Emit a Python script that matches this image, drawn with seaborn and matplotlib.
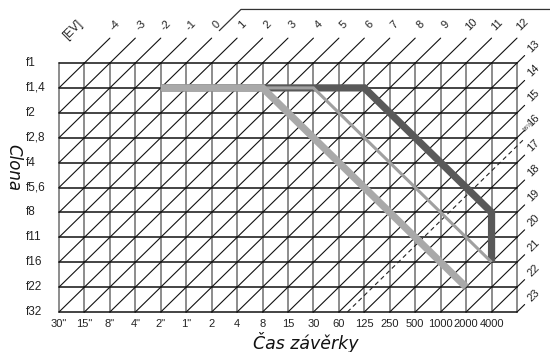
import matplotlib
matplotlib.use("Agg")
import matplotlib.pyplot as plt
import seaborn as sns
import pandas as pd

# ---- data -------------------------------------------------------------
shutter_labels = ['30"', '15"', '8"', '4"', '2"', '1"', '2', '4', '8', '15', '30',
                  '60', '125', '250', '500', '1000', '2000', '4000']
aperture_labels = ['f1', 'f1,4', 'f2', 'f2,8', 'f4', 'f5,6', 'f8', 'f11', 'f16', 'f22', 'f32']
ev_top = list(range(-4, 13))      # EV labels along the top
ev_right = list(range(13, 24))    # EV labels along the right side
ev_limit = 16 + 1 / 3             # dashed limit line
ev_limit_label = '16⅓'
ev_bracket = 0                    # EV line that carries the upper bracket

prog_dark_shutter = ['2"', '125', '4000', '4000']
prog_dark_aperture = ['f1,4', 'f1,4', 'f8', 'f16']
prog_thin_shutter = ['2"', '30', '4000']
prog_thin_aperture = ['f1,4', 'f1,4', 'f16']
prog_light_shutter = ['2"', '8', '2000']
prog_light_aperture = ['f1,4', 'f1,4', 'f22']

# ---- figure -----------------------------------------------------------
sns.set_style("white")
plt.rcParams['font.family'] = ['Liberation Sans', 'DejaVu Sans']

W, H = 550, 352
fig = plt.figure(figsize=(W / 100, H / 100), dpi=100)
ax = fig.add_axes([59 / W, 1 - 312 / H, 458 / W, 249 / H])
ncol = len(shutter_labels)
nrow = len(aperture_labels) - 1
ax.set_xlim(0, ncol)
ax.set_ylim(nrow, 0)
ax.set_axis_off()

EV0 = -5  # EV at the top-left corner (30", f1)


def k_of(ev):
    return ev - EV0


# grid
for i in range(ncol + 1):
    ax.plot([i, i], [0, nrow], color='#8c8c8c', lw=1.4, zorder=1, clip_on=False)
for j in range(nrow + 1):
    ax.plot([0, ncol], [j, j], color='#111111', lw=1.1, zorder=2, clip_on=False)
for k in range(1, ncol + nrow):
    x0, x1 = max(0, k - nrow), min(ncol, k)
    ax.plot([x0, x1], [k - x0, k - x1], color='#111111', lw=0.8, zorder=2, clip_on=False)

# extensions of EV lines above and to the right
for ev in ev_top:
    k = k_of(ev)
    ax.plot([k, k + 1], [0, -1], color='#111111', lw=0.8, clip_on=False)
    ax.text(k + 1.2, -1.53, str(ev), rotation=45, ha='center', va='center',
            fontsize=8, color='#222222')
for ev in ev_right:
    k = k_of(ev)
    ax.plot([ncol, ncol + 0.3], [k - ncol, k - ncol - 0.3], color='#111111', lw=0.8,
            clip_on=False)
    ax.text(ncol + 0.65, k - ncol - 0.68, str(ev), rotation=45, ha='center', va='center',
            fontsize=8, color='#222222')

# bracket on top
kb = k_of(ev_bracket)
ax.plot([kb + 1.3, kb + 2.15, 19.4], [-1.3, -2.15, -2.15], color='#333333', lw=0.9,
        clip_on=False)
ax.text(0.55, -1.33, '[EV]', rotation=45, ha='center', va='center', fontsize=8.5,
        color='#222222')

# dashed limit
kl = k_of(ev_limit)
ax.plot([kl - nrow, ncol + 0.3], [nrow, kl - ncol - 0.3], color='#222222', lw=0.8,
        ls=(0, (4, 3)), clip_on=False, zorder=2)
ax.text(ncol + 0.42, kl - ncol - 0.78, ev_limit_label, rotation=45, ha='center',
        va='center', fontsize=4.5, color='#222222')

# programme lines
def prog(sh, ap):
    return pd.DataFrame({'x': [shutter_labels.index(s) for s in sh],
                         'y': [aperture_labels.index(a) for a in ap]})


for sh, ap, col, lw in [(prog_dark_shutter, prog_dark_aperture, '#595959', 5.2),
                        (prog_thin_shutter, prog_thin_aperture, '#a0a0a0', 2.2),
                        (prog_light_shutter, prog_light_aperture, '#a9a9a9', 5.2)]:
    d = prog(sh, ap)
    sns.lineplot(data=d, x='x', y='y', sort=False, estimator=None, color=col, lw=lw,
                 ax=ax, zorder=3, solid_joinstyle='miter', solid_capstyle='butt')
ax.set_xlim(0, ncol)
ax.set_ylim(nrow, 0)
ax.set_axis_off()

# tick labels
for j, lab in enumerate(aperture_labels):
    ax.text(-1.3, j, lab, ha='left', va='center', fontsize=8.5, color='#222222',
            clip_on=False)
for i, lab in enumerate(shutter_labels):
    ax.text(i, nrow + 0.5, lab, ha='center', va='center', fontsize=8, color='#222222',
            clip_on=False)

fig.text(306 / W, 1 - 342.5 / H, 'Čas závěrky', ha='center', va='center', fontsize=12.5,
         style='italic', family='DejaVu Sans', color='#111111')
fig.text(13 / W, 1 - 168 / H, 'Clona', ha='center', va='center', fontsize=12,
         style='italic', rotation=-90, family='DejaVu Sans', color='#111111')

fig.savefig('out.png', dpi=100, facecolor='white')
